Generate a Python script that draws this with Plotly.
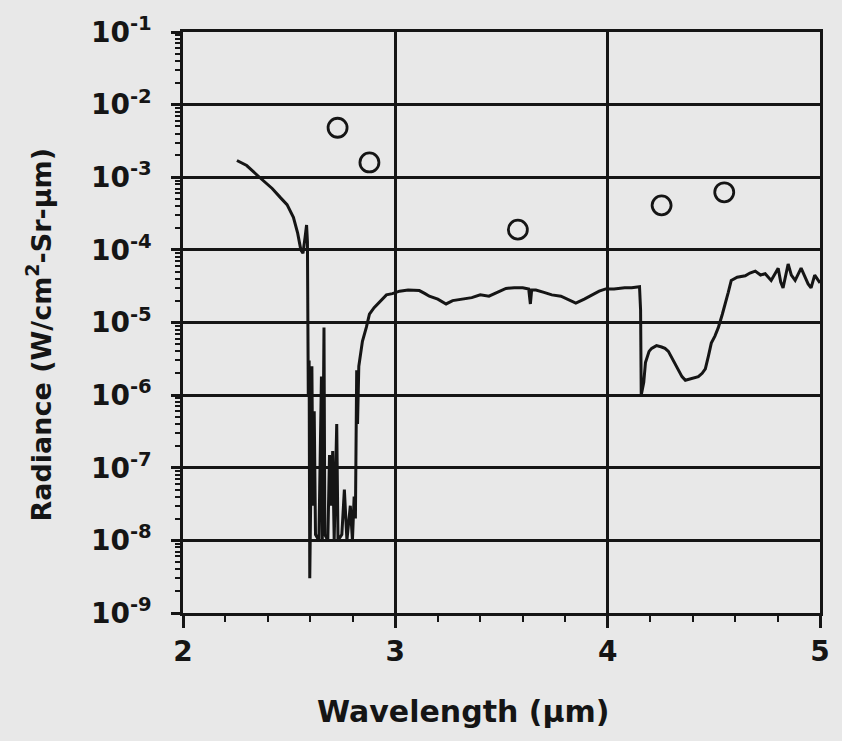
import plotly.graph_objects as go

# Measured spectrum (wavelength in um, radiance in W/cm2-Sr-um)
wavelength = [
    2.254, 2.30, 2.36, 2.42, 2.46, 2.49, 2.52, 2.54, 2.555, 2.565, 2.575, 2.582, 2.586,
    2.588, 2.590, 2.594, 2.597, 2.602, 2.607, 2.612, 2.618, 2.624, 2.640, 2.652, 2.656,
    2.664, 2.668, 2.682, 2.690, 2.697, 2.705, 2.712, 2.724, 2.730, 2.748, 2.760, 2.772,
    2.788, 2.798, 2.806, 2.812, 2.818, 2.822, 2.828, 2.845, 2.864, 2.878, 2.900, 2.925,
    2.958, 2.986, 3.02, 3.06, 3.113, 3.14, 3.160, 3.20, 3.239, 3.27, 3.315, 3.36, 3.40,
    3.441, 3.48, 3.521, 3.56, 3.60, 3.628, 3.636, 3.642, 3.662, 3.70, 3.737, 3.78, 3.82,
    3.850, 3.89, 3.925, 3.96, 3.991, 4.03, 4.08, 4.113, 4.150, 4.155, 4.158, 4.170, 4.178,
    4.195, 4.207, 4.23, 4.254, 4.27, 4.286, 4.31, 4.333, 4.350, 4.366, 4.40, 4.427, 4.445,
    4.460, 4.475, 4.488, 4.505, 4.521, 4.54, 4.554, 4.568, 4.582, 4.61, 4.648, 4.67, 4.695,
    4.72, 4.742, 4.770, 4.803, 4.815, 4.826, 4.850, 4.865, 4.883, 4.911, 4.93, 4.944,
    4.958, 4.975, 5.0,
]
radiance = [
    1.7e-3, 1.45e-3, 1.0e-3, 7.0e-4, 5.2e-4, 4.2e-4, 2.8e-4, 1.7e-4, 1.0e-4, 9e-5, 1.5e-4, 2.2e-4, 1.3e-4,
    1.0e-5, 1.0e-6, 3.0e-6, 3.0e-9, 5e-8, 2.5e-6, 3e-8, 6e-7, 1.2e-8, 1.0e-8, 1.8e-6, 1.0e-8,
    8.5e-6, 1.2e-8, 1.0e-8, 1.5e-7, 3e-8, 1.7e-7, 1.0e-8, 4e-7, 1.0e-8, 1.2e-8, 5e-8, 1.0e-8,
    3e-8, 1.0e-8, 4e-8, 2e-8, 2.2e-6, 4e-7, 2.5e-6, 5.5e-6, 8.7e-6, 1.3e-5, 1.6e-5, 1.9e-5,
    2.4e-5, 2.5e-5, 2.7e-5, 2.8e-5, 2.75e-5, 2.5e-5, 2.3e-5, 2.1e-5, 1.8e-5, 2.0e-5, 2.1e-5, 2.2e-5, 2.4e-5,
    2.3e-5, 2.6e-5, 2.95e-5, 3.0e-5, 3.0e-5, 2.9e-5, 1.8e-5, 2.8e-5, 2.8e-5, 2.6e-5, 2.4e-5, 2.3e-5, 2.0e-5,
    1.85e-5, 2.1e-5, 2.4e-5, 2.7e-5, 2.9e-5, 2.9e-5, 3.0e-5, 3.0e-5, 3.1e-5, 1.5e-5, 1.0e-6, 1.5e-6, 2.8e-6,
    4.0e-6, 4.4e-6, 4.8e-6, 4.6e-6, 4.4e-6, 4.0e-6, 3.0e-6, 2.2e-6, 1.8e-6, 1.6e-6, 1.7e-6, 1.8e-6, 2.0e-6,
    2.3e-6, 3.5e-6, 5.2e-6, 6.5e-6, 8.5e-6, 1.3e-5, 1.8e-5, 2.6e-5, 3.8e-5, 4.2e-5, 4.4e-5, 4.8e-5, 5.1e-5,
    4.5e-5, 4.7e-5, 3.8e-5, 5.6e-5, 3.6e-5, 3.0e-5, 6.4e-5, 4.5e-5, 3.8e-5, 5.6e-5, 4.2e-5, 3.4e-5,
    3.0e-5, 4.5e-5, 3.5e-5,
]

# Open-circle points
point_wavelength = [2.728, 2.878, 3.577, 4.254, 4.549]
point_radiance = [4.8e-3, 1.6e-3, 1.9e-4, 4.1e-4, 6.2e-4]

x_ticks = [2, 3, 4, 5]
x_ticklabels = ["2", "3", "4", "5"]
y_exponents = [-9, -8, -7, -6, -5, -4, -3, -2, -1]
y_ticks = [10.0 ** e for e in y_exponents]
y_ticklabels = ["10<sup>%d</sup>" % e for e in y_exponents]
y_minor = [k * 10.0 ** e for e in y_exponents[:-1] for k in range(2, 10)]

BG = "#e8e8e8"
INK = "#151515"
FONT = dict(family="DejaVu Sans", size=27, color=INK, weight="bold")

fig = go.Figure()
fig.add_trace(go.Scatter(
    x=wavelength, y=radiance, mode="lines",
    line=dict(color=INK, width=3), showlegend=False, hoverinfo="skip",
))
fig.add_trace(go.Scatter(
    x=point_wavelength, y=point_radiance, mode="markers",
    marker=dict(symbol="circle-open", size=19, color=INK, line=dict(width=2.8, color=INK)),
    showlegend=False,
))

fig.update_layout(
    width=842, height=741,
    paper_bgcolor=BG, plot_bgcolor=BG,
    margin=dict(l=183, r=20, t=30, b=128),
    font=FONT,
    xaxis=dict(
        range=[2, 5], tickmode="array", tickvals=x_ticks, ticktext=x_ticklabels,
        showgrid=True, gridcolor=INK, gridwidth=2.5,
        showline=True, linecolor=INK, linewidth=2.5, mirror=True,
        ticks="outside", ticklen=12, tickwidth=2.5, tickcolor=INK,
        tickfont=dict(family="DejaVu Sans", size=28, color=INK, weight="bold"),
        minor=dict(dtick=0.2, ticks="outside", ticklen=6, tickwidth=2, tickcolor=INK, showgrid=False),
        zeroline=False,
    ),
    yaxis=dict(
        type="log", range=[-9, -1], tickmode="array", tickvals=y_ticks, ticktext=y_ticklabels,
        showgrid=True, gridcolor=INK, gridwidth=2.5,
        showline=True, linecolor=INK, linewidth=2.5, mirror=True,
        ticks="outside", ticklen=9, tickwidth=2.5, tickcolor=INK,
        ticklabelstandoff=14,
        tickfont=dict(family="DejaVu Sans", size=28, color=INK, weight="bold"),
        minor=dict(tickmode="array", tickvals=y_minor, ticks="outside", ticklen=5, tickwidth=2,
                   tickcolor=INK, showgrid=False),
        zeroline=False,
    ),
    annotations=[
        dict(text="Wavelength (μm)", xref="paper", yref="paper", x=0.44, y=-0.17,
             xanchor="center", yanchor="middle", showarrow=False,
             font=dict(family="DejaVu Sans", size=30, color=INK, weight="bold")),
        dict(text="Radiance (W/cm<sup>2</sup>-Sr-μm)", xref="paper", yref="paper", x=-0.227, y=0.48,
             xanchor="center", yanchor="middle", textangle=-90, showarrow=False,
             font=dict(family="DejaVu Sans", size=27, color=INK, weight="bold")),
    ],
)

fig.write_html(
    "out.html",
    config={"displayModeBar": False},
    post_script="document.body.style.margin='0';document.body.style.background='%s';" % BG,
)
